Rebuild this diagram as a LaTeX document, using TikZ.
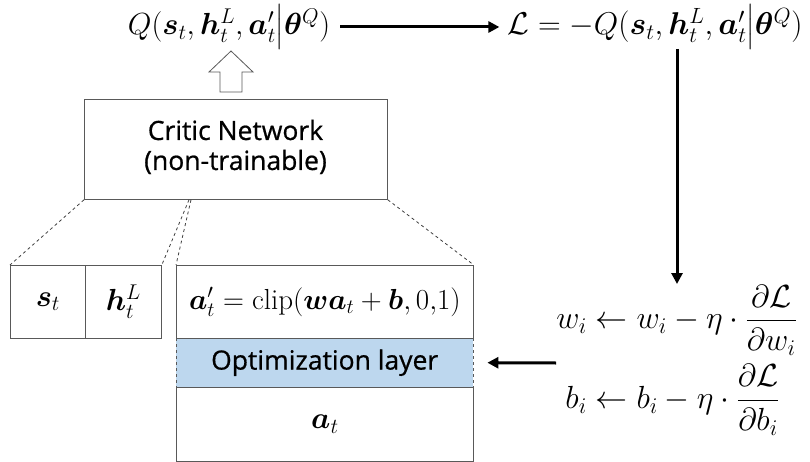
\RequirePackage{fix-cm}
\documentclass[tikz,border=0pt]{standalone}
\usepackage{amsmath,bm}
\usepackage{fontspec}
\newfontfamily\labfont[FakeBold=0.7]{Open Sans}
\usetikzlibrary{arrows.meta}
\begin{document}
\begin{tikzpicture}[x=1pt,y=-1pt,
  box/.style={draw=black!65,line width=0.8pt,rectangle,inner sep=0pt,anchor=north west},
  lab/.style={font=\labfont\fontsize{26.5}{30}\selectfont,align=center},
  fml/.style={font=\fontsize{30.5}{36}\selectfont,inner sep=0pt},
  thick arrow/.style={line width=3pt,-{Triangle[length=11pt,width=11pt]}},
  dash line/.style={dashed,line width=0.8pt,black!75}]
\useasboundingbox (0,0) rectangle (810,462);
% critic box
\node[box,minimum width=303pt,minimum height=100pt] (critic) at (84,99) {};
\node[lab] (crtxt) at (235.5,147) {Critic Network\\[0pt](non-trainable)};
% hollow arrow
\draw[black!65,line width=0.8pt,fill=white] (220,92)--(220,72)--(209,72)--(231,51)--(253,72)--(242,72)--(242,92)--cycle;
% Q formula
\node[fml] (Qf) at (229,27) {$Q(\bm{s}_t,\bm{h}_t^L,\bm{a}_t'\big|\bm{\theta}^Q)$};
\node[fml,font=\fontsize{31.5}{36}\selectfont] (Lf) at (655,27) {$\mathcal{L}=-Q(\bm{s}_t,\bm{h}_t^L,\bm{a}_t'\big|\bm{\theta}^Q)$};
% left state boxes
\node[box,minimum width=75pt,minimum height=73pt] (sbox) at (10,265) {};
\node[box,minimum width=76pt,minimum height=73pt] (hbox) at (85,265) {};
\node[fml] at (sbox.center) {$\bm{s}_t$};
\node[fml] at (hbox.center) {$\bm{h}_t^L$};
% right column
\node[box,minimum width=297pt,minimum height=73pt] (clip) at (176,265) {};
\node[fml,font=\fontsize{29}{33}\selectfont] at (clip.center) {$\bm{a}_t'=\mathrm{clip}(\bm{w}\bm{a}_t+\bm{b},0{,}1)$};
\fill[fill={rgb,255:red,189;green,215;blue,238}] (176,338) rectangle (473,387);
\node[inner sep=0pt,minimum width=297pt,minimum height=49pt,anchor=north west] (opt) at (176,338) {};
\draw[black!65,line width=0.8pt] (176,338)--(473,338) (176,387)--(473,387);
\draw[black!65,line width=0.8pt,dashed] (176,338)--(176,387) (473,338)--(473,387);
\node[lab] at (opt.center) {Optimization layer};
\node[box,minimum width=297pt,minimum height=74pt] (abox) at (176,387) {};
\node[fml] at (abox.center) {$\bm{a}_t$};
% dashed zoom lines
\draw[dash line] (critic.south west) -- (sbox.north west);
\draw[dash line] ([xshift=105pt]critic.south west) -- (hbox.north east);
\draw[dash line] ([xshift=107pt]critic.south west) -- (clip.north west);
\draw[dash line] (critic.south east) -- (clip.north east);
% update formulas
\node[fml,font=\fontsize{32}{37}\selectfont,anchor=east] (upd) at (797,360) {$\begin{aligned}
 w_i &\leftarrow w_i-\eta\cdot\frac{\partial\mathcal{L}}{\partial w_i}\\[5pt]
 b_i &\leftarrow b_i-\eta\cdot\frac{\partial\mathcal{L}}{\partial b_i}
\end{aligned}$};
% arrows
\draw[thick arrow] ([xshift=10pt]Qf.east) -- ([xshift=-8pt]Lf.west);
\coordinate (vtop) at (677,49);
\coordinate (vbot) at (677,284);
\draw[thick arrow] (vtop) -- (vbot);
\coordinate (hs) at (556,363);
\draw[thick arrow] (hs) -- ([xshift=14pt]opt.east);
\end{tikzpicture}
\end{document}
